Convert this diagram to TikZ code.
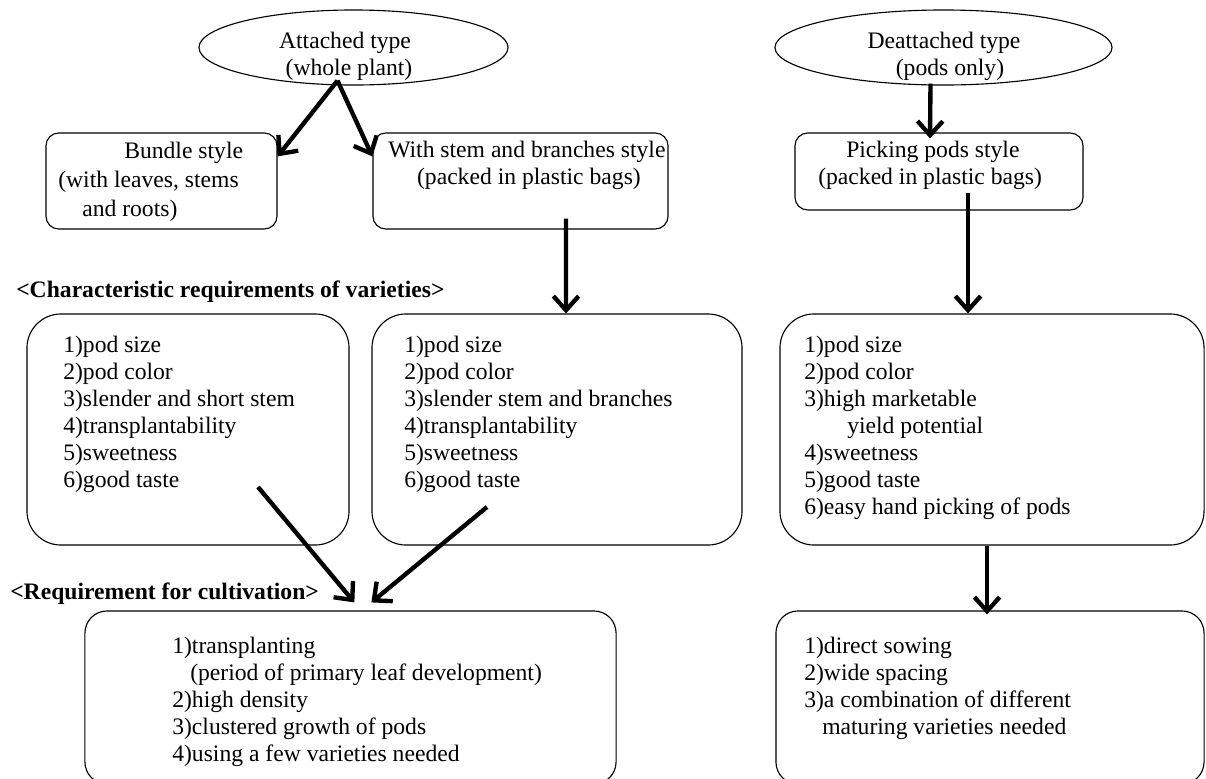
\documentclass[tikz,border=0pt]{standalone}
\usepackage{fontspec}
\setmainfont{Liberation Serif}
\usetikzlibrary{shapes.geometric, arrows.meta, calc}

\begin{document}
\begin{tikzpicture}[x=0.025cm, y=-0.025cm,
    font=\fontsize{16.8}{19.2}\selectfont,
    kind/.style={ellipse, draw, line width=0.8pt, inner sep=0pt, minimum height=1.875cm},
    pack/.style={rectangle, rounded corners=0.32cm, draw, line width=0.8pt, inner sep=0pt},
    need/.style={rectangle, rounded corners=0.85cm, draw, line width=0.8pt, inner sep=0pt, minimum height=5.775cm},
    cult/.style={rectangle, rounded corners=0.55cm, draw, line width=0.8pt, inner sep=0pt, minimum height=4.325cm},
    txt/.style={inner sep=0pt, anchor=north west, align=left},
    head/.style={inner sep=0pt, anchor=west, font=\fontsize{16.8}{19.2}\selectfont\bfseries},
    arr/.style={-{Straight Barb[length=10pt, width=18pt]}, line width=3.1pt}
]
  \useasboundingbox (0,0) rectangle (1206,778);
  \clip (0,0) rectangle (1206,778);

  % Types
  \node[kind, minimum width=7.725cm] (attached) at (353.5,47.5) {};
  \node[kind, minimum width=8.425cm] (detached) at (943.5,47.5) {};
  \node[align=center, inner sep=0pt] (attachedtxt) at (345,56) {Attached type\\\hspace*{0.2cm}(whole plant)};
  \node[align=center, inner sep=0pt] (detachedtxt) at (944,56) {Deattached type\\\hspace*{0.3cm}(pods only)};

  % Styles of shipping
  \node[pack, minimum width=5.775cm, minimum height=2.4cm]  (bundle)   at (161.5,181) {};
  \node[pack, minimum width=7.375cm, minimum height=2.4cm]  (stembox)  at (520.5,181) {};
  \node[pack, minimum width=7.2cm, minimum height=1.925cm] (picking)  at (939,171.5) {};
  \node[txt, font=\fontsize{16.8}{20.5}\selectfont] (bundletxt) at (58,138.5)
    {\strut\hspace*{1.65cm}Bundle style\\(with leaves, stems\\\hspace*{0.6cm}and roots)};
  \node[txt] (stemtxt) at (388,138.5)
    {\strut With stem and branches style\\\hspace*{0.72cm}(packed in plastic bags)};
  \node[txt] (pickingtxt) at (818,138.5)
    {\strut\hspace*{0.7cm}Picking pods style\\(packed in plastic bags)};

  % Requirements of varieties
  \node[head] (headvar) at (16,292) {<Characteristic requirements of varieties>};
  \node[need, minimum width=8.05cm]  (varA) at (188,429.5) {};
  \node[need, minimum width=9.25cm]  (varB) at (557,429.5) {};
  \node[need, minimum width=10.6cm]  (varC) at (992,429.5) {};
  \node[txt] (varAtxt) at (63,333.5)
    {\strut 1)pod size\\2)pod color\\3)slender and short stem\\4)transplantability\\5)sweetness\\6)good taste};
  \node[txt] (varBtxt) at (404,333.5)
    {\strut 1)pod size\\2)pod color\\3)slender stem and branches\\4)transplantability\\5)sweetness\\6)good taste};
  \node[txt] (varCtxt) at (804,333.5)
    {\strut 1)pod size\\2)pod color\\3)high marketable\\\hspace*{1.075cm}yield potential\\4)sweetness\\5)good taste\\6)easy hand picking of pods};

  % Requirements for cultivation
  \node[head] (headcult) at (10,594) {<Requirement for cultivation>};
  \node[cult, minimum width=13.275cm] (cultD) at (350.5,697.5) {};
  \node[cult, minimum width=10.7cm]   (cultE) at (990,697.5) {};
  \node[txt] (cultDtxt) at (172,634.5)
    {\strut 1)transplanting\\\hspace*{0.45cm}(period of primary leaf development)\\2)high density\\3)clustered growth of pods\\4)using a few varieties needed};
  \node[txt] (cultEtxt) at (804,634.5)
    {\strut 1)direct sowing\\2)wide spacing\\3)a combination of different\\\hspace*{0.45cm}maturing varieties needed};

  % Arrows
  \coordinate (split) at ($(attached.south)+(-16,-5)$);
  \draw[arr] (split) -- ($(bundle.north east)+(0,24)$);
  \draw[arr] (split) -- ($(stembox.north west)+(0,24)$);
  \draw[arr] ($(detached.south)+(-13,-2)$) -- ($(picking.north)+(-9,6)$);
  \draw[arr] ($(stembox.south)+(45.5,-11)$) -- ($(varB.north)+(9,0)$);
  \draw[arr] ($(picking.south)+(29,-18)$) -- ($(varC.north)+(-24,0)$);
  \draw[arr] ($(varA.center)+(70,57.5)$) -- ($(cultD.north west)+(270,-8)$);
  \draw[arr] ($(varB.center)+(-70,77.5)$) -- ($(cultD.north west)+(287,-8)$);
  \draw[arr] ($(varC.south)+(-5,0)$) -- ($(cultE.north)+(-3,4)$);
\end{tikzpicture}
\end{document}
